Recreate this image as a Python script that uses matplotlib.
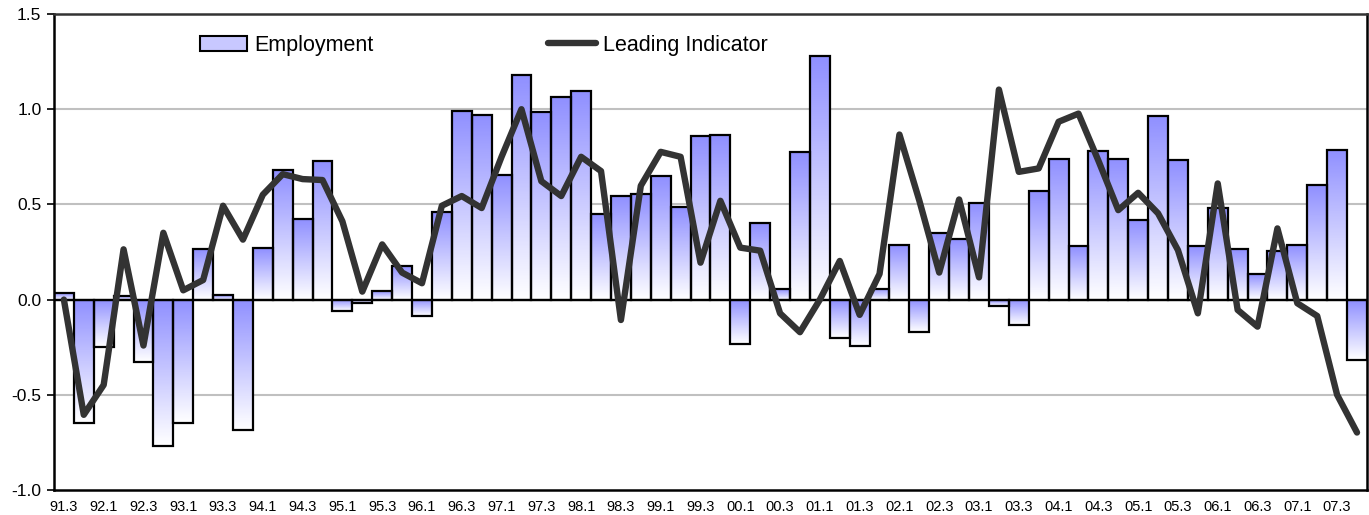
import numpy as np
import matplotlib.pyplot as plt
from matplotlib.colors import LinearSegmentedColormap
from matplotlib.patches import Patch
from matplotlib.lines import Line2D

plt.rcParams['font.family'] = ['Liberation Sans', 'DejaVu Sans']

# quarters 91.3 .. 07.4
quarters = []
for yy in list(range(91, 100)) + list(range(0, 8)):
    for q in range(1, 5):
        quarters.append(f"{yy:02d}.{q}")
quarters = quarters[2:]

employment = [
    0.035, -0.647, -0.25, 0.019, -0.329, -0.769, -0.647, 0.266, 0.024, -0.684,
    0.273, 0.68, 0.425, 0.729, -0.059, -0.019, 0.044, 0.178, -0.086, 0.46,
    0.99, 0.97, 0.657, 1.178, 0.984, 1.065, 1.096, 0.451, 0.542, 0.554,
    0.647, 0.488, 0.858, 0.865, -0.233, 0.404, 0.056, 0.776, 1.278, -0.199,
    -0.241, 0.058, 0.285, -0.171, 0.351, 0.316, 0.505, -0.031, -0.135, 0.572,
    0.736, 0.28, 0.783, 0.741, 0.416, 0.963, 0.731, 0.281, 0.481, 0.267,
    0.135, 0.255, 0.288, 0.6, 0.788, -0.315,
]

leading = [
    0.0, -0.605, -0.448, 0.264, -0.241, 0.351, 0.049, 0.103, 0.493, 0.315,
    0.551, 0.659, 0.633, 0.628, 0.411, 0.042, 0.29, 0.142, 0.086, 0.493,
    0.544, 0.481, 0.75, 1.0, 0.622, 0.544, 0.75, 0.675, -0.107, 0.598,
    0.776, 0.75, 0.194, 0.519, 0.273, 0.257, -0.072, -0.171, 0.0, 0.203,
    -0.08, 0.135, 0.867, 0.52, 0.142, 0.526, 0.117, 1.103, 0.671, 0.689,
    0.934, 0.977, 0.73, 0.47, 0.561, 0.453, 0.26, -0.072, 0.61, -0.054,
    -0.142, 0.374, -0.019, -0.086, -0.5, -0.698,
]

bar_top = '#9090ff'
line_col = '#333333'
grad = LinearSegmentedColormap.from_list('g', ['#ffffff', bar_top])

fig = plt.figure(figsize=(13.69, 5.15), dpi=100)
ax = fig.add_axes([0.0394, 0.0485, 0.9591, 0.9243])

x = np.arange(len(quarters))
ax.set_xlim(-0.5, len(quarters) - 0.5)
ax.set_ylim(-1.0, 1.5)

for yv in [-0.5, 0.5, 1.0]:
    ax.axhline(yv, color='#c0c0c0', lw=1.5, zorder=0)

bars = ax.bar(x, employment, width=1.0, facecolor='none', edgecolor='black',
              lw=1.6, zorder=3)
g = np.linspace(0, 1, 100).reshape(-1, 1)
for b, v in zip(bars, employment):
    x0 = b.get_x()
    lo, hi = min(0, v), max(0, v)
    im = ax.imshow(g, cmap=grad, aspect='auto', origin='lower',
                   extent=[x0, x0 + b.get_width(), lo, hi], zorder=2)
    im.set_clip_path(b)

ax.axhline(0, color='black', lw=1.6, zorder=4)
ax.plot(x, leading, color=line_col, lw=4.6, zorder=5, solid_joinstyle='round',
        solid_capstyle='round')

ax.set_xticks(x[::2])
ax.set_xticklabels(quarters[::2], fontsize=10.5)
ax.tick_params(axis='x', length=0, pad=7)
ax.set_yticks([-1.0, -0.5, 0.0, 0.5, 1.0, 1.5])
ax.set_yticklabels(['-1.0', '-0.5', '0.0', '0.5', '1.0', '1.5'], fontsize=12.5)
ax.tick_params(axis='y', length=5, width=1.2, pad=4)

for s in ['left', 'bottom', 'right']:
    ax.spines[s].set_linewidth(1.8)
    ax.spines[s].set_color('black')
ax.spines['top'].set_linewidth(1.8)
ax.spines['top'].set_color('#333333')

handles = [Patch(facecolor='#c8c8ff', edgecolor='black', lw=1.5),
           Line2D([0], [0], color=line_col, lw=4.6, solid_capstyle='round')]
ax.legend(handles, ['Employment', 'Leading Indicator'], ncol=2, frameon=False,
          fontsize=15.5, loc='center left', bbox_to_anchor=(0.111, 0.934),
          borderaxespad=0, borderpad=0,
          handlelength=2.2, handletextpad=0.35, columnspacing=8.1)

fig.savefig('out.png', dpi=100)
